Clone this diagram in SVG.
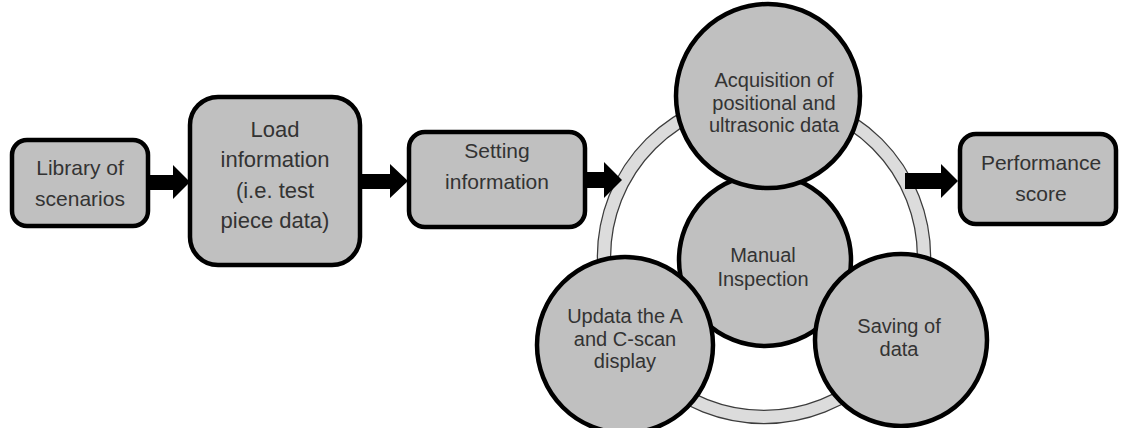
<svg xmlns="http://www.w3.org/2000/svg" width="1121" height="428" viewBox="0 0 1121 428">
  <style>
    .box { fill: #c0c0c0; stroke: #000; stroke-width: 4.5; }
    .node { fill: #c0c0c0; stroke: #000; stroke-width: 4.5; }
    .lbl { font-family: "Liberation Sans", Arial, sans-serif; font-size: 21px; fill: #333; text-anchor: middle; }
    .lbl-c { font-family: "Liberation Sans", Arial, sans-serif; font-size: 20px; fill: #333; text-anchor: middle; }
    .arrow { fill: #000; }
  </style>
  <rect width="1121" height="428" fill="#fff"/>

  <!-- cycle ring behind the inspection loop -->
  <g id="ring">
    <circle cx="764" cy="257" r="160" fill="none" stroke="#3c3c3c" stroke-width="14.5"/>
    <circle cx="764" cy="257" r="160" fill="none" stroke="#dcdcdc" stroke-width="12"/>
  </g>

  <g id="library">
    <rect class="box" x="12" y="140" width="136" height="86" rx="15"/>
    <text class="lbl" x="80" y="175">Library of</text>
    <text class="lbl" x="80" y="206">scenarios</text>
  </g>

  <g id="load">
    <rect class="box" x="190" y="97" width="170" height="168" rx="28"/>
    <text class="lbl" x="275" y="137" style="font-size:22px">Load</text>
    <text class="lbl" x="275" y="167" style="font-size:22px">information</text>
    <text class="lbl" x="275" y="198" style="font-size:22px">(i.e. test</text>
    <text class="lbl" x="275" y="228" style="font-size:22px">piece data)</text>
  </g>

  <g id="setting">
    <rect class="box" x="409" y="132" width="176" height="95" rx="16"/>
    <text class="lbl" x="497" y="158">Setting</text>
    <text class="lbl" x="497" y="189">information</text>
  </g>

  <g id="performance">
    <rect class="box" x="960" y="134" width="156" height="90" rx="16"/>
    <text class="lbl" x="1041" y="170">Performance</text>
    <text class="lbl" x="1041" y="201">score</text>
  </g>

  <g id="manual-inspection">
    <circle class="node" cx="765" cy="260" r="86"/>
    <text class="lbl-c" x="763" y="262">Manual</text>
    <text class="lbl-c" x="763" y="286">Inspection</text>
  </g>

  <g id="acquisition">
    <circle class="node" cx="768" cy="96" r="92"/>
    <text class="lbl-c" x="774" y="87">Acquisition of</text>
    <text class="lbl-c" x="774" y="110">positional and</text>
    <text class="lbl-c" x="774" y="132">ultrasonic data</text>
  </g>

  <g id="update-display">
    <circle class="node" cx="625" cy="345" r="88"/>
    <text class="lbl-c" x="625" y="323">Updata the A</text>
    <text class="lbl-c" x="625" y="346">and C-scan</text>
    <text class="lbl-c" x="625" y="368">display</text>
  </g>

  <g id="saving">
    <circle class="node" cx="901" cy="340" r="86"/>
    <text class="lbl-c" x="899" y="333">Saving of</text>
    <text class="lbl-c" x="899" y="356">data</text>
  </g>

  <!-- block arrows between stages -->
  <g id="connectors">
    <polygon class="arrow" points="150,175 173,175 173,165 190,182 173,199 173,190 150,190"/>
    <polygon class="arrow" points="362,174 390,174 390,164 408,181 390,198 390,189 362,189"/>
    <polygon class="arrow" points="587,172 604,172 604,162 622,180 604,198 604,188 587,188"/>
    <polygon class="arrow" points="905,173 941,173 941,164 958,181 941,198 941,189 905,189"/>
  </g>
</svg>
